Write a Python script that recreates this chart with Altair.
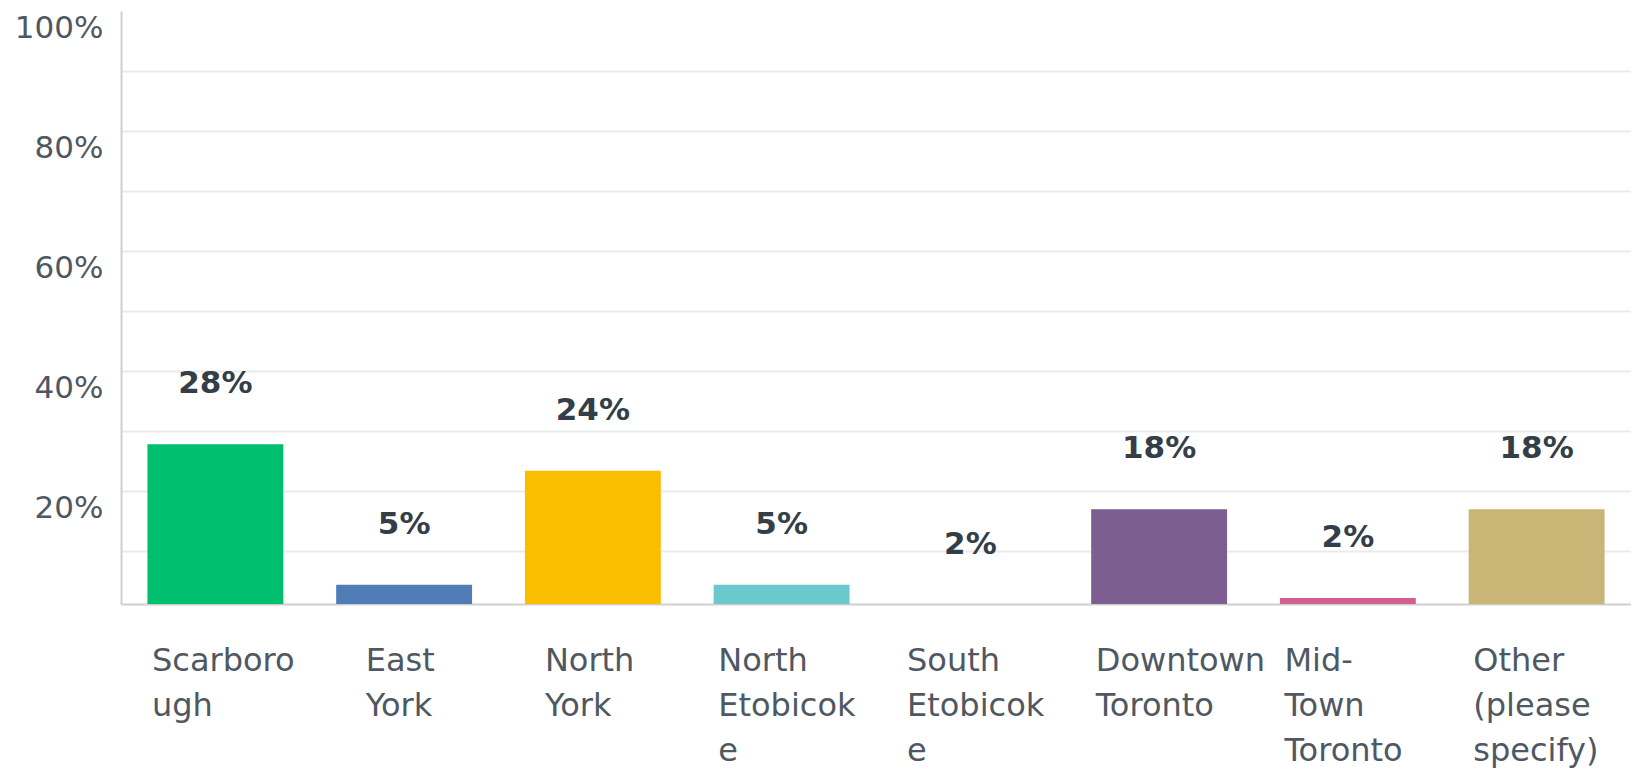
import json
import altair as alt
import pandas as pd

categories = ["Scarborough", "East York", "North York", "North Etobicoke",
              "South Etobicoke", "Downtown Toronto", "Mid-Town Toronto",
              "Other (please specify)"]
label_lines = [["Scarboro", "ugh"], ["East", "York"], ["North", "York"],
               ["North", "Etobicok", "e"], ["South", "Etobicok", "e"],
               ["Downtown", "Toronto"], ["Mid-", "Town", "Toronto"],
               ["Other", "(please", "specify)"]]
values = [27.8, 4.4, 23.4, 4.4, 1.0, 17.0, 2.2, 17.0]
pct_labels = ["28%", "5%", "24%", "5%", "2%", "18%", "2%", "18%"]
colors = ["#00BF6F", "#507CB6", "#F9BE00", "#6BC8CD", "#FF8B4F",
          "#7D5E90", "#D25F90", "#C9B677"]
y_ticks = [10, 20, 30, 40, 50, 60, 70, 80, 90, 100]

W, H = 1510, 593
step = W / len(categories)
FONT = "DejaVu Sans"
XFS = 32
char_w = 0.6 * XFS

df = pd.DataFrame({"cat": categories, "value": values,
                   "pct": pct_labels, "color": colors})

# multi-line label expression
parts = [f"datum.value == {json.dumps(c)} ? {json.dumps(l)}"
         for c, l in zip(categories, label_lines)]
label_expr = " : ".join(parts) + " : datum.label"

cap = -(step / 2 - 31)
conds = []
for c, l in zip(categories, label_lines):
    off = max(cap, -max(len(s) for s in l) * char_w / 2)
    conds.append({"test": f"datum.value == {json.dumps(c)}", "value": off})

x = alt.X("cat:N", sort=categories,
          scale=alt.Scale(paddingInner=0.28, paddingOuter=0.14),
          axis=alt.Axis(title=None, ticks=False, labelAngle=0,
                        labelAlign="left", labelBaseline="top",
                        labelExpr=label_expr, labelFont=FONT,
                        labelFontSize=XFS, labelLineHeight=45,
                        labelColor="#4f5862", labelPadding=41,
                        labelLimit=0, labelOverlap=False, labelBound=False,
                        labelOffset={"condition": conds, "value": cap},
                        domainColor="#cfcfcf", domainWidth=2))

y = alt.Y("value:Q",
          scale=alt.Scale(domain=[1.2, 100], nice=False, zero=False),
          axis=alt.Axis(title=None, values=y_ticks, ticks=False,
                        labelExpr="datum.value % 20 == 0 ? datum.value + '%' : ''",
                        labelFont=FONT, labelFontSize=31, labelColor="#4f5862",
                        labelBaseline="middle", labelOffset=17, labelPadding=18,
                        domainColor="#cfcfcf", domainWidth=2,
                        gridColor="#e9ebec", gridWidth=2,
                        gridOpacity={"condition": {"test": "datum.value == 100", "value": 0}, "value": 1}))

bars = alt.Chart(df).mark_bar(clip=True).encode(
    x=x, y=y, color=alt.Color("color:N", scale=None))

texts = alt.Chart(df).mark_text(baseline="middle", dy=-60, font=FONT,
                                fontSize=31, fontWeight="bold",
                                color="#333e48").encode(
    x=alt.X("cat:N", sort=categories), y=alt.Y("value:Q"), text="pct:N")

chart = (bars + texts).properties(
    width=W, height=H,
    padding={"left": 113, "top": 3, "right": 0, "bottom": 165},
    autosize=alt.AutoSizeParams(type="none"),
).configure_view(stroke=None)

chart.save("out.html", embed_options={"renderer": "svg", "actions": False})
